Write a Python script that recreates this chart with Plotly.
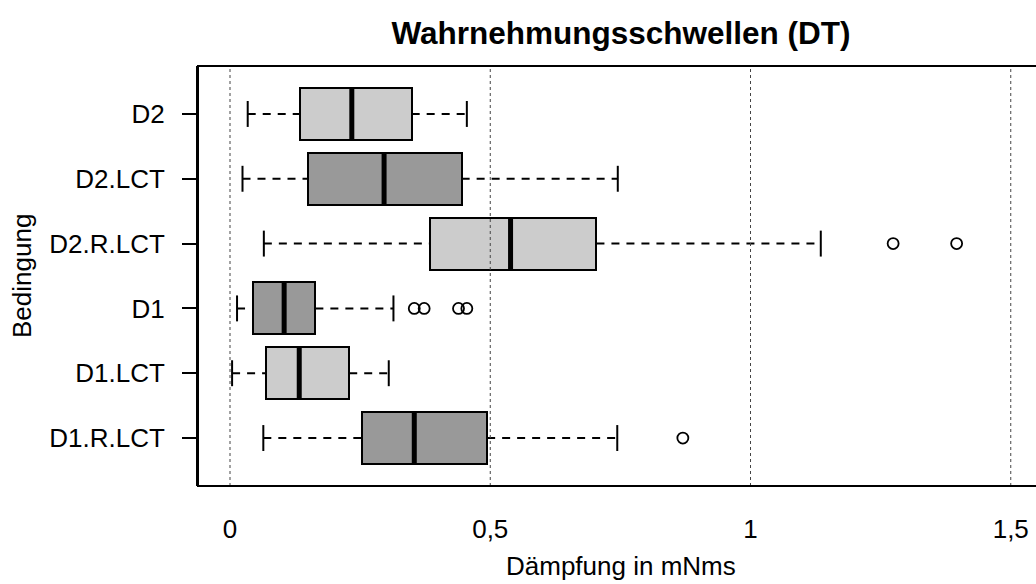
import plotly.graph_objects as go

# Groups in R order (first = bottom)
categories = ["D1.R.LCT", "D1.LCT", "D1", "D2.R.LCT", "D2.LCT", "D2"]
lower_whisker = [0.064, 0.004, 0.0135, 0.065, 0.024, 0.034]
q1 = [0.254, 0.069, 0.044, 0.384, 0.149, 0.134]
median = [0.354, 0.133, 0.104, 0.539, 0.296, 0.234]
q3 = [0.494, 0.229, 0.164, 0.704, 0.445, 0.349]
upper_whisker = [0.744, 0.305, 0.314, 1.135, 0.745, 0.455]
box_colors = ["#999999", "#cccccc", "#999999", "#cccccc", "#999999", "#cccccc"]

outlier_cat = ["D1.R.LCT", "D1", "D1", "D1", "D1", "D2.R.LCT", "D2.R.LCT"]
outlier_val = [0.870, 0.354, 0.373, 0.439, 0.455, 1.274, 1.396]

x_ticks = [0, 0.5, 1, 1.5]
x_ticklabels = ["0", "0,5", "1", "1,5"]

title = "Wahrnehmungsschwellen (DT)"
x_title = "Dämpfung in mNms"
y_title = "Bedingung"

FONT = "Liberation Sans, Arial, sans-serif"
pos = [i + 1 for i in range(len(categories))]
pos_of = dict(zip(categories, pos))
half_box = 0.4
half_staple = 0.2

fig = go.Figure()

# boxes
fig.add_trace(go.Bar(
    orientation="h", y=pos, base=q1,
    x=[b - a for a, b in zip(q1, q3)],
    width=2 * half_box,
    marker=dict(color=box_colors, line=dict(color="black", width=2)),
    hoverinfo="skip", showlegend=False,
))

# whiskers (dashed)
wx, wy = [], []
for p, lw, a, b, uw in zip(pos, lower_whisker, q1, q3, upper_whisker):
    wx += [lw, a, None, b, uw, None]
    wy += [p, p, None, p, p, None]
fig.add_trace(go.Scatter(x=wx, y=wy, mode="lines",
                         line=dict(color="black", width=2, dash="8px,7px"),
                         hoverinfo="skip", showlegend=False))

# staples
sx, sy = [], []
for p, lw, uw in zip(pos, lower_whisker, upper_whisker):
    for w in (lw, uw):
        sx += [w, w, None]
        sy += [p - half_staple, p + half_staple, None]
fig.add_trace(go.Scatter(x=sx, y=sy, mode="lines",
                         line=dict(color="black", width=2),
                         hoverinfo="skip", showlegend=False))

# medians
mx, my = [], []
for p, m in zip(pos, median):
    mx += [m, m, None]
    my += [p - half_box, p + half_box, None]
fig.add_trace(go.Scatter(x=mx, y=my, mode="lines",
                         line=dict(color="black", width=5),
                         hoverinfo="skip", showlegend=False))

# outliers
fig.add_trace(go.Scatter(
    x=outlier_val, y=[pos_of[c] for c in outlier_cat], mode="markers",
    marker=dict(symbol="circle-open", size=11, color="black", line=dict(width=1.8)),
    hoverinfo="skip", showlegend=False))

# dotted vertical reference lines (drawn over boxes)
shapes = []
for v in x_ticks:
    shapes.append(dict(type="line", xref="x", yref="paper", x0=v, x1=v, y0=0, y1=1,
                       line=dict(color="#444444", width=1, dash="3px,3px"), layer="above"))
# plot frame (right side extends beyond the page)
shapes.append(dict(type="rect", xref="paper", yref="paper", x0=0, x1=1.3, y0=0, y1=1,
                   line=dict(color="black", width=2), fillcolor="rgba(0,0,0,0)", layer="above"))

W, H = 1036, 584
L, T, B = 198, 66, 98
px_per_unit = 520.5
x0 = -0.0615
x1 = x0 + (W - L) / px_per_unit
plot_h = H - T - B

fig.update_layout(
    width=W, height=H,
    margin=dict(l=L, r=0, t=T, b=B, pad=0),
    paper_bgcolor="white", plot_bgcolor="white",
    font=dict(family=FONT, size=26, color="black"),
    title=dict(text="<b>" + title + "</b>", x=(621 - L) / (W - L), xref="paper", xanchor="center",
               y=1 - 33 / H, yref="container", yanchor="middle",
               font=dict(family=FONT, size=31.5, color="black")),
    shapes=shapes,
    bargap=0,
    xaxis=dict(range=[x0, x1], tickvals=x_ticks, ticktext=x_ticklabels,
               showgrid=False, zeroline=False, showline=False, ticks="",
               ticklabelstandoff=25, tickfont=dict(size=26)),
    yaxis=dict(range=[0.26, 6.74], tickvals=pos, ticktext=categories,
               showgrid=False, zeroline=False, showline=True, linecolor="black", linewidth=2,
               ticks="outside", ticklen=14, tickwidth=2, tickcolor="black",
               ticklabelstandoff=12, tickfont=dict(size=26)),
    annotations=[
        dict(text=x_title, xref="paper", yref="paper", x=(621 - L) / (W - L),
             y=-(566 - (H - B)) / plot_h, xanchor="center", yanchor="middle",
             showarrow=False, font=dict(size=26)),
        dict(text=y_title, xref="paper", yref="paper", x=(22 - L) / (W - L),
             y=0.5, xanchor="center", yanchor="middle", textangle=-90,
             showarrow=False, font=dict(size=26)),
    ],
)

fig.write_html("out.html")
